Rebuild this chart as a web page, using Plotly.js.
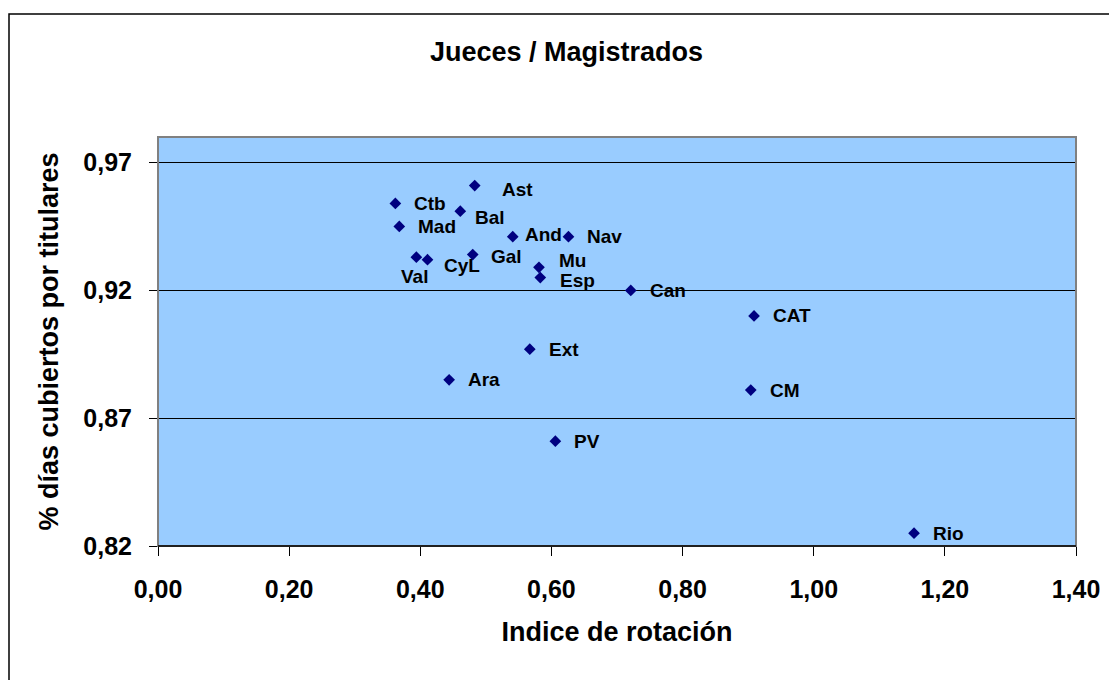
<!DOCTYPE html>
<html>
<head>
<meta charset="utf-8">
<script src="https://cdn.plot.ly/plotly-3.0.1.min.js"></script>
<style>html,body{margin:0;padding:0;background:#fff;}#chart{width:1109px;height:680px;}</style>
</head>
<body>
<div id="chart"></div>
<script>
// Data
const regions = ["Ast","Ctb","Bal","Mad","And","Nav","Val","CyL","Gal","Mu","Esp","Can","CAT","Ext","Ara","CM","PV","Rio"];
const rotationIndex = [0.483,0.362,0.461,0.368,0.541,0.626,0.394,0.411,0.480,0.581,0.583,0.721,0.909,0.567,0.444,0.904,0.606,1.153];
const coveredDays = [0.961,0.954,0.951,0.945,0.941,0.941,0.933,0.932,0.934,0.929,0.925,0.920,0.910,0.897,0.885,0.881,0.861,0.825];
const xTickVals = [0,0.2,0.4,0.6,0.8,1.0,1.2,1.4];
const xTickText = ["0,00","0,20","0,40","0,60","0,80","1,00","1,20","1,40"];
const yTickVals = [0.82,0.87,0.92,0.97];
const yTickText = ["0,82","0,87","0,92","0,97"];

// label placement (pixel offsets, styles only)
const labelShift = {
  Ast:{dx:25,dy:-4}, Bal:{dx:13,dy:-6}, And:{dx:10,dy:2},
  Val:{dx:-2,dy:-19,center:true}, CyL:{dx:14,dy:-6}, Gal:{dx:16,dy:-2},
  Mu:{dx:18,dy:7}, Esp:{dx:18,dy:-3}
};

const FONT = "Liberation Sans, Arial, sans-serif";

const annotations = regions.map((r,i)=>{
  const s = labelShift[r] || {dx:17,dy:0};
  return {
    x: rotationIndex[i], y: coveredDays[i], xref:'x', yref:'y',
    text: r, showarrow:false,
    xanchor: s.center ? 'center' : 'left', yanchor:'middle',
    xshift: s.dx, yshift: s.dy,
    font:{family:FONT, size:19, color:'#000', weight:'bold'}
  };
});

const trace = {
  x: rotationIndex, y: coveredDays, mode:'markers', type:'scatter',
  marker:{symbol:'diamond', size:9, color:'#000080', line:{width:0}},
  hoverinfo:'skip'
};

const layout = {
  width:1109, height:680,
  margin:{l:158, r:33, t:137, b:134},
  paper_bgcolor:'#ffffff', plot_bgcolor:'#99CCFF',
  showlegend:false,
  font:{family:FONT, color:'#000'},
  title:{text:'<b>Jueces / Magistrados</b>', font:{family:FONT, size:27, color:'#000'},
    xref:'paper', x:0.445, xanchor:'center', yref:'container', y:1-52/680, yanchor:'middle'},
  xaxis:{
    range:[0,1.4], tickvals:xTickVals, ticktext:xTickText,
    ticks:'outside', ticklen:9, tickcolor:'#000', tickwidth:1,
    showgrid:false, zeroline:false, showline:true, linecolor:'#000', linewidth:1,
    tickfont:{family:FONT, size:25, color:'#000', weight:'bold'},
    ticklabelstandoff:12,
    title:{text:'<b>Indice de rotación</b>', font:{family:FONT, size:27, color:'#000'}, standoff:20}
  },
  yaxis:{
    range:[0.82,0.98], tickvals:yTickVals, ticktext:yTickText,
    ticks:'outside', ticklen:8, tickcolor:'#000', tickwidth:1,
    showgrid:true, gridcolor:'#000', gridwidth:1,
    zeroline:false, showline:true, linecolor:'#000', linewidth:1,
    tickfont:{family:FONT, size:25, color:'#000', weight:'bold'},
    ticklabelstandoff:12,
    title:{text:'<b>% días cubiertos por titulares</b>', font:{family:FONT, size:27, color:'#000'}, standoff:16}
  },
  annotations: annotations,
  shapes:[
    {type:'rect', xref:'paper', yref:'paper', x0:0, x1:1, y0:0, y1:1, line:{color:'#808080', width:2}, layer:'above'},
    {type:'line', xref:'paper', yref:'paper', x0:0, x1:1, y0:0, y1:0, line:{color:'#000', width:1.5}, layer:'above'},
    {type:'rect', xref:'paper', yref:'paper', x0:(9-158)/918, x1:1.2, y0:-0.5, y1:1+(137-14)/409, line:{color:'#000', width:1.5}, layer:'above'}
  ]
};

Plotly.newPlot('chart', [trace], layout, {displayModeBar:false, staticPlot:true});
</script>
</body>
</html>
